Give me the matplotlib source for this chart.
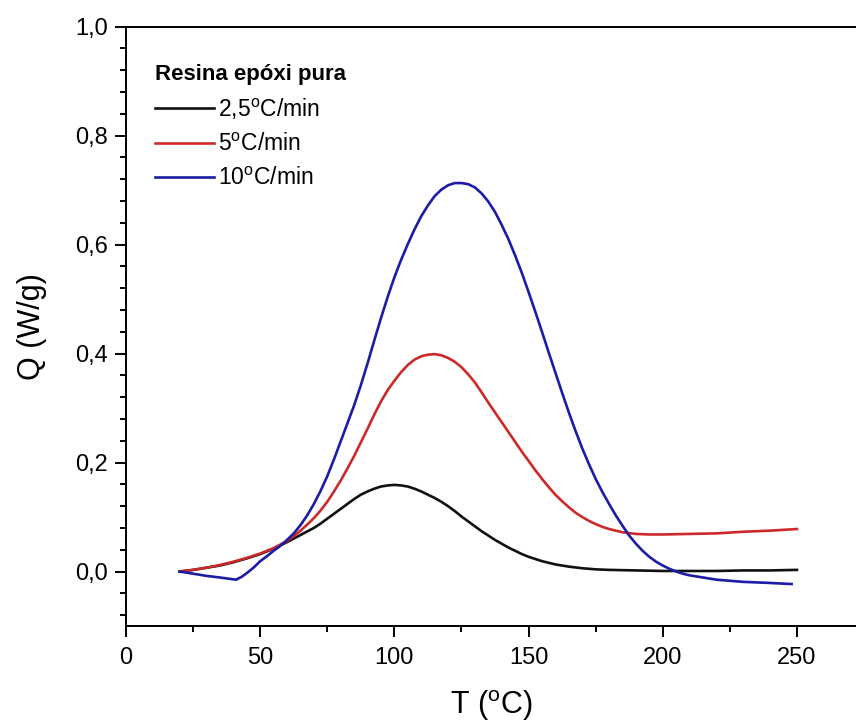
import matplotlib
matplotlib.use("Agg")
import matplotlib.pyplot as plt
from matplotlib.ticker import MultipleLocator, FixedLocator, FixedFormatter

plt.rcParams['font.family'] = ['Liberation Sans', 'DejaVu Sans']
plt.rcParams['mathtext.fontset'] = 'custom'
plt.rcParams['mathtext.rm'] = 'Liberation Sans'
plt.rcParams['mathtext.it'] = 'Liberation Sans:italic'

# ---- data ----
T_black = [20, 22.5, 25, 30, 35, 40, 45, 50, 55, 60, 65, 70, 72.5, 75, 77.5, 80, 82.5, 85,
           87.5, 90, 92.5, 95, 97.5, 100, 102.5, 105, 107.5, 110, 112.5, 115, 117.5, 120,
           122.5, 125, 127.5, 130, 132.5, 135, 137.5, 140, 142.5, 145, 147.5, 150, 155, 160,
           165, 170, 175, 180, 190, 200, 210, 220, 230, 240, 250]
Q_black = [0.000, 0.0015, 0.003, 0.007, 0.011, 0.017, 0.024, 0.032, 0.042, 0.054, 0.067,
           0.080, 0.088, 0.097, 0.106, 0.115, 0.124, 0.133, 0.141, 0.147, 0.152, 0.156,
           0.158, 0.159, 0.158, 0.156, 0.152, 0.147, 0.141, 0.135, 0.128, 0.120, 0.111,
           0.101, 0.092, 0.083, 0.074, 0.066, 0.058, 0.051, 0.044, 0.038, 0.032, 0.027,
           0.019, 0.013, 0.009, 0.006, 0.004, 0.003, 0.002, 0.001, 0.001, 0.001, 0.002,
           0.002, 0.003]

T_red = [20, 22.5, 25, 30, 35, 40, 45, 50, 55, 60, 62.5, 65, 67.5, 70, 72.5, 75, 77.5, 80,
         82.5, 85, 87.5, 90, 92.5, 95, 97.5, 100, 102.5, 105, 107.5, 110, 112.5, 115, 117.5,
         120, 122.5, 125, 127.5, 130, 132.5, 135, 137.5, 140, 142.5, 145, 147.5, 150, 152.5,
         155, 157.5, 160, 162.5, 165, 167.5, 170, 172.5, 175, 177.5, 180, 182.5, 185, 190,
         195, 200, 210, 220, 230, 240, 250]
Q_red = [0.000, 0.0015, 0.003, 0.007, 0.012, 0.018, 0.025, 0.033, 0.043, 0.056, 0.065,
         0.075, 0.086, 0.098, 0.112, 0.128, 0.147, 0.167, 0.189, 0.212, 0.237, 0.262, 0.288,
         0.312, 0.333, 0.350, 0.366, 0.379, 0.389, 0.395, 0.398, 0.399, 0.397, 0.392, 0.385,
         0.375, 0.362, 0.347, 0.329, 0.310, 0.292, 0.274, 0.256, 0.238, 0.220, 0.203, 0.186,
         0.170, 0.155, 0.141, 0.129, 0.118, 0.108, 0.100, 0.093, 0.087, 0.082, 0.078, 0.075,
         0.072, 0.069, 0.068, 0.068, 0.069, 0.070, 0.073, 0.075, 0.078]

T_blue = [20, 25, 30, 35, 41, 43, 45, 47.5, 50, 52.5, 55, 57.5, 60, 62.5, 65, 67.5, 70, 72.5,
          75, 77.5, 80, 82.5, 85, 87.5, 90, 92.5, 95, 97.5, 100, 102.5, 105, 107.5, 110,
          112.5, 115, 117.5, 120, 122.5, 125, 127.5, 130, 132.5, 135, 137.5, 140, 142.5, 145,
          147.5, 150, 152.5, 155, 157.5, 160, 162.5, 165, 167.5, 170, 172.5, 175, 177.5, 180,
          182.5, 185, 187.5, 190, 192.5, 195, 197.5, 200, 202.5, 205, 207.5, 210, 215, 220,
          225, 230, 240, 248]
Q_blue = [0.000, -0.004, -0.008, -0.011, -0.015, -0.010, -0.003, 0.007, 0.019, 0.028, 0.038,
          0.047, 0.058, 0.070, 0.085, 0.103, 0.124, 0.148, 0.175, 0.206, 0.239, 0.272, 0.305,
          0.342, 0.382, 0.424, 0.465, 0.504, 0.540, 0.572, 0.601, 0.628, 0.652, 0.672, 0.689,
          0.701, 0.709, 0.713, 0.713, 0.711, 0.705, 0.694, 0.679, 0.660, 0.636, 0.610, 0.580,
          0.548, 0.513, 0.477, 0.440, 0.402, 0.365, 0.328, 0.292, 0.258, 0.226, 0.197, 0.170,
          0.146, 0.124, 0.103, 0.084, 0.066, 0.051, 0.038, 0.027, 0.018, 0.011, 0.005, 0.000,
          -0.004, -0.007, -0.011, -0.015, -0.017, -0.019, -0.021, -0.023]

labels = ['2,5$^{\\mathrm{o}}$C/min', '5$^{\\mathrm{o}}$C/min', '10$^{\\mathrm{o}}$C/min']
colors = ['#111111', '#cc2a2a', '#1c1ca8']
legend_title = 'Resina epóxi pura'

y_ticks = [0.0, 0.2, 0.4, 0.6, 0.8, 1.0]
y_ticklabels = ['0,0', '0,2', '0,4', '0,6', '0,8', '1,0']
x_ticks = [0, 50, 100, 150, 200, 250]
x_ticklabels = ['0', '50', '100', '150', '200', '250']

# ---- figure ----
fig = plt.figure(figsize=(8.56, 7.22), dpi=100)
ax = fig.add_axes([126 / 856, 1 - 626 / 722, 1 - 126 / 856, (626 - 26.7) / 722])

for T, Q, lab, c in zip([T_black, T_red, T_blue], [Q_black, Q_red, Q_blue], labels, colors):
    ax.plot(T, Q, color=c, lw=1.9, label=lab, solid_joinstyle='round')

ax.set_xlim(0, 272)
ax.set_ylim(-0.1, 1.0)

ax.xaxis.set_major_locator(FixedLocator(x_ticks))
ax.xaxis.set_major_formatter(FixedFormatter(x_ticklabels))
ax.xaxis.set_minor_locator(MultipleLocator(25))
ax.yaxis.set_major_locator(FixedLocator(y_ticks))
ax.yaxis.set_major_formatter(FixedFormatter(y_ticklabels))
ax.yaxis.set_minor_locator(MultipleLocator(0.04))

ax.tick_params(which='both', direction='out', width=1.4, top=False, right=False)
ax.tick_params(which='major', length=8, labelsize=17, pad=5)
ax.tick_params(which='minor', length=4.5)
ax.tick_params(axis='x', which='major', pad=7)

for s in ['left', 'bottom', 'top']:
    ax.spines[s].set_linewidth(1.4)
ax.spines['right'].set_visible(False)

ax.set_xlabel('T ($^{\\mathrm{o}}$C)', fontsize=22, labelpad=14)
ax.set_ylabel('Q (W/g)', fontsize=22, labelpad=20)

leg = ax.legend(title=legend_title, loc='upper left', bbox_to_anchor=(0.04, 0.938),
                frameon=False, fontsize=16.5, handlelength=2.55, handletextpad=0.2,
                labelspacing=0.5, borderpad=0, borderaxespad=0, alignment='left',
                title_fontproperties={'weight': 'bold', 'size': 16})

fig.savefig('out.png', dpi=100)
